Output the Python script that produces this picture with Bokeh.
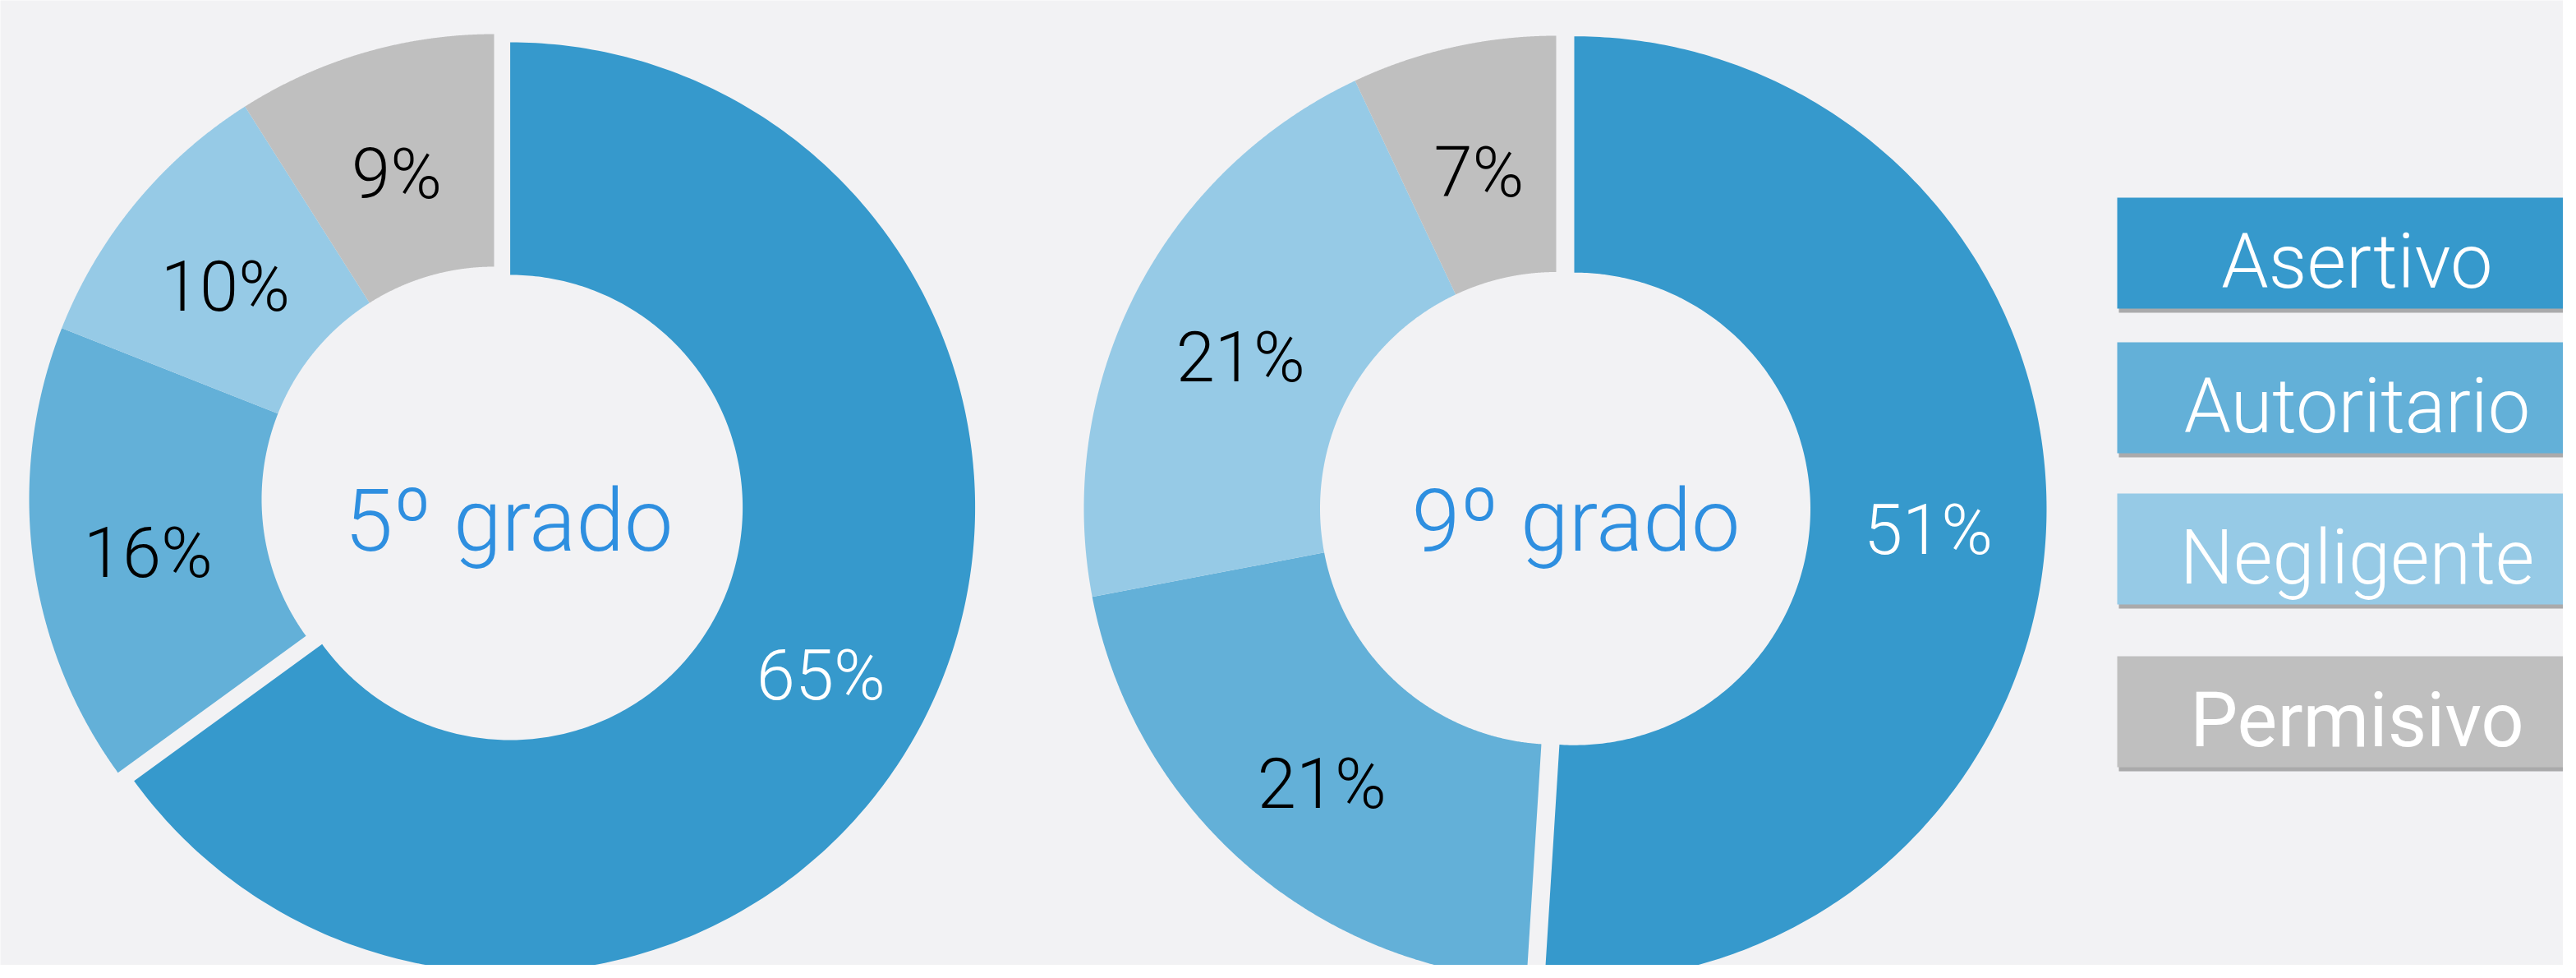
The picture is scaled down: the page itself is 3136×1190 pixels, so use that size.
import numpy as np
from bokeh.plotting import figure
from bokeh.models import Range1d
from bokeh.core.properties import value
from bokeh.embed import file_html
from bokeh.resources import INLINE

# ---- data ----
categories = ["Asertivo", "Autoritario", "Negligente", "Permisivo"]
grade5_pct = [65, 16, 10, 9]
grade9_pct = [51, 21, 21, 7]
chart_titles = ["5º grado", "9º grado"]

# ---- styles ----
colors = ["#3699CC", "#63B0D8", "#96CAE6", "#BFBFBF"]
label_colors = ["#FFFFFF", "#000000", "#000000", "#000000"]
BG = "#F2F2F4"
TITLE_COLOR = "#2E8FE0"
FONT = value("Roboto Light")

W, H = 3120, 1174
p = figure(width=W, height=H, x_range=Range1d(8, 8 + W), y_range=Range1d(8 + H, 8),
           output_backend="svg", toolbar_location=None, min_border=0)
p.axis.visible = False
p.grid.visible = False
p.outline_line_color = None
p.background_fill_color = BG
p.border_fill_color = BG

EXPLODE = 22
LABEL_DY = 12


def donut(values, cx, cy, r_out, title, tx, ty):
    r_in = 0.5 * r_out
    r_lab = 0.75 * r_out
    total = float(sum(values))
    start = 90.0
    xs, ys = [], []
    lx, ly, lt, lc = [], [], [], []
    for i, v in enumerate(values):
        sweep = 360.0 * v / total
        a0, a1 = start, start - sweep
        mid = np.radians((a0 + a1) / 2)
        off = EXPLODE if i == 0 else 0
        ox = cx + off * np.cos(mid)
        oy = cy - off * np.sin(mid)
        t = np.radians(np.linspace(a0, a1, 300))
        px = np.concatenate([ox + r_out * np.cos(t), ox + r_in * np.cos(t[::-1])])
        py = np.concatenate([oy - r_out * np.sin(t), oy - r_in * np.sin(t[::-1])])
        xs.append(px.tolist())
        ys.append(py.tolist())
        lx.append(ox + r_lab * np.cos(mid))
        ly.append(oy - r_lab * np.sin(mid) + LABEL_DY)
        lt.append(f"{v}%")
        lc.append(label_colors[i])
        start = a1
    p.patches(xs=xs, ys=ys, fill_color=colors, line_color=None)
    p.text(x=lx, y=ly, text=lt, text_color=lc, text_font=FONT,
           text_font_size="85px", text_align="center", text_baseline="middle")
    p.text(x=[tx], y=[ty], text=[title], text_color=TITLE_COLOR, text_font=FONT,
           text_font_size="106px", text_align="center", text_baseline="middle")


donut(grade5_pct, 609, 615, 566, chart_titles[0], 627, 641)
donut(grade9_pct, 1902, 626, 575, chart_titles[1], 1926, 641)

# ---- legend boxes ----
box_left, box_right = 2585, 8 + W
box_tops = [248, 424, 608, 806]
box_h = 135
tops = box_tops
bottoms = [t + box_h for t in tops]
p.quad(left=[box_left + 2] * 4, right=[box_right] * 4,
       top=[t + 5 for t in tops], bottom=[b + 5 for b in bottoms],
       fill_color="#7A7A7A", fill_alpha=0.6, line_color=None)
p.quad(left=[box_left] * 4, right=[box_right] * 4, top=tops, bottom=bottoms,
       fill_color=colors, line_color=None)
text_y = [t + box_h / 2 + 10 for t in tops]
p.text(x=[2877] * 3, y=text_y[:3], text=categories[:3],
       text_color="#FFFFFF", text_font=FONT, text_font_size="92px",
       text_align="center", text_baseline="middle")
p.text(x=[2877], y=text_y[3:], text=categories[3:],
       text_color="#FFFFFF", text_font=value("Roboto"), text_font_size="92px",
       text_align="center", text_baseline="middle")

open("out.html", "w").write(file_html(p, INLINE))
